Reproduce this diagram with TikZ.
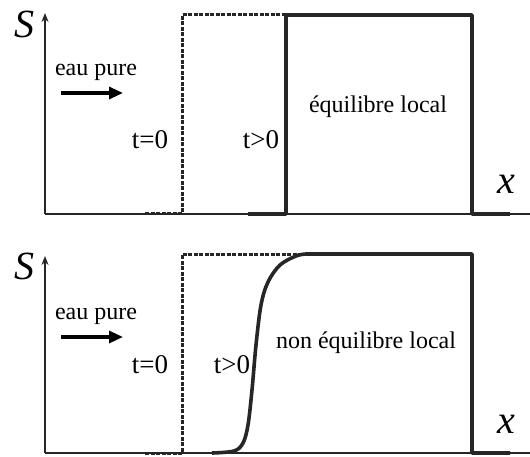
\documentclass[tikz,border=0pt]{standalone}
\usepackage{fontspec}
\setmainfont{Liberation Serif}
\usetikzlibrary{arrows.meta}
\begin{document}
\begin{tikzpicture}[x=1pt,y=-1pt,
  axisline/.style={line width=1.6pt,color=black!85},
  yaxis/.style={line width=2.4pt,color=black!85,-{Stealth[length=9pt,width=7pt]}},
  profile/.style={line width=3.6pt,color=black!85,line join=round},
  initial/.style={line width=3pt,color=black!85,dash pattern=on 4pt off 1.5pt},
  flow/.style={line width=3.2pt,-{Triangle[length=14pt,width=12pt]}},
  lbl/.style={font=\fontsize{24}{26}\selectfont,inner sep=0pt},
  tlbl/.style={font=\fontsize{27}{29}\selectfont,inner sep=0pt},
  axlbl/.style={font=\fontsize{40}{42}\selectfont\itshape,inner sep=0pt}]
\useasboundingbox (0,0) rectangle (530,457);
% ---------- top panel ----------
\coordinate (o1) at (45,214);
\coordinate (y1) at (45,13);
\coordinate (xe1) at (530,214);
\draw[axisline] (o1) -- (xe1);
\draw[yaxis] (o1) -- (y1);
\draw[initial] (145,214) -- (182,214) -- (182,15) -- (286,15);
\draw[profile] (248,214) -- (286,214) -- (286,15) -- (472,15) -- (472,214) -- (510,214);
\node[axlbl] (S1) at (24,24) {S};
\node[axlbl] (x1) at (506,184) {x};
\node[lbl] (eau1) at (96,72) {eau pure};
\coordinate (a1s) at (61,93);
\coordinate (a1e) at (123,93);
\draw[flow] (a1s) -- (a1e);
\node[tlbl] (t01) at (150,140) {t=0};
\node[tlbl] (tp1) at (261,140) {t>0};
\node[lbl] (eq1) at (378,107) {équilibre local};
% ---------- bottom panel ----------
\coordinate (o2) at (45,453);
\coordinate (y2) at (45,256);
\coordinate (xe2) at (530,453);
\draw[axisline] (o2) -- (xe2);
\draw[yaxis] (o2) -- (y2);
\draw[initial] (145,453) -- (182,453) -- (182,254) -- (300,254);
\draw[profile] plot[smooth,tension=0.55] coordinates {(212,453) (234,451) (243,443) (248,425) (252,390) (256,345) (261,305) (268,282) (280,265) (296,256) (306,254)}
  -- (472,254) -- (472,453) -- (510,453);
\node[axlbl] (S2) at (24,266) {S};
\node[axlbl] (x2) at (506,424) {x};
\node[lbl] (eau2) at (96,316) {eau pure};
\coordinate (a2s) at (61,337);
\coordinate (a2e) at (123,337);
\draw[flow] (a2s) -- (a2e);
\node[tlbl] (t02) at (150,365) {t=0};
\node[tlbl] (tp2) at (232,365) {t>0};
\node[lbl] (eq2) at (366,343) {non équilibre local};
\end{tikzpicture}
\end{document}
